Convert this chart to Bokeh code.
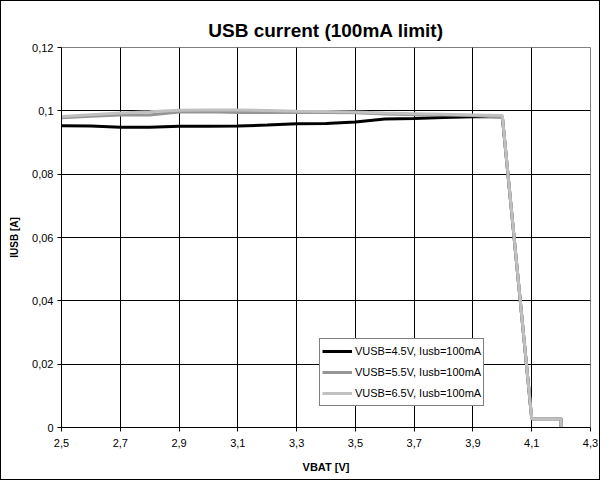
from bokeh.plotting import figure
from bokeh.models import Range1d, FixedTicker, Legend, LegendItem
from bokeh.embed import file_html
from bokeh.resources import INLINE

x_vals = [2.5, 2.6, 2.7, 2.8, 2.9, 3.0, 3.1, 3.2, 3.3, 3.4, 3.5, 3.6, 3.7, 3.8, 3.9, 4.0, 4.1, 4.2, 4.2]
vusb_45 = [0.0953, 0.0952, 0.0948, 0.0948, 0.0951, 0.0951, 0.0952, 0.0955, 0.0959, 0.0960, 0.0965,
           0.0974, 0.0976, 0.0979, 0.0981, 0.0982, 0.0028, 0.0028, 0.0]
vusb_55 = [0.0978, 0.0983, 0.0987, 0.0987, 0.0996, 0.0997, 0.0995, 0.0995, 0.0995, 0.0995, 0.0994,
           0.0990, 0.0988, 0.0987, 0.0985, 0.0980, 0.0028, 0.0028, 0.0]
vusb_65 = [0.0982, 0.0988, 0.0993, 0.0997, 0.1002, 0.1003, 0.1003, 0.1001, 0.0999, 0.0998, 0.0996,
           0.0993, 0.0991, 0.0989, 0.0987, 0.0985, 0.0028, 0.0028, 0.0]
series_labels = ["VUSB=4.5V, Iusb=100mA", "VUSB=5.5V, Iusb=100mA", "VUSB=6.5V, Iusb=100mA"]
series_colors = ["#000000", "#969696", "#c0c0c0"]

x_ticks = [2.5, 2.7, 2.9, 3.1, 3.3, 3.5, 3.7, 3.9, 4.1, 4.3]
x_tick_labels = ["2,5", "2,7", "2,9", "3,1", "3,3", "3,5", "3,7", "3,9", "4,1", "4,3"]
y_ticks = [0, 0.02, 0.04, 0.06, 0.08, 0.1, 0.12]
y_tick_labels = ["0", "0,02", "0,04", "0,06", "0,08", "0,1", "0,12"]

FONT = "Liberation Sans"

p = figure(width=600, height=480, output_backend="svg", toolbar_location=None,
           x_range=Range1d(2.5, 4.3), y_range=Range1d(0, 0.12),
           title="USB current (100mA limit)",
           min_border_left=60, min_border_right=11, min_border_top=46, min_border_bottom=54)
p.styles = {"border": "1px solid black"}

p.title.text_font = FONT
p.title.text_font_size = "19px"
p.title.text_font_style = "bold"
p.title.text_color = "black"
p.title.align = "center"
p.title.offset = -19
p.title.standoff = 14

p.outline_line_color = "#808080"
p.outline_line_width = 1

p.xaxis.ticker = FixedTicker(ticks=x_ticks)
p.xaxis.major_label_overrides = {t: l for t, l in zip(x_ticks, x_tick_labels)}
p.yaxis.ticker = FixedTicker(ticks=y_ticks)
p.yaxis.major_label_overrides = {t: l for t, l in zip(y_ticks, y_tick_labels)}

for ax in (p.xaxis, p.yaxis):
    ax.minor_tick_line_color = None
    ax.major_tick_in = 0
    ax.major_tick_out = 4
    ax.major_tick_line_color = "black"
    ax.axis_line_color = "black"
    ax.major_label_text_font = FONT
    ax.major_label_text_font_size = "11px"
    ax.major_label_text_color = "black"
    ax.axis_label_text_font = FONT
    ax.axis_label_text_font_style = "bold"
    ax.axis_label_text_color = "black"

p.xaxis.axis_label = "VBAT [V]"
p.xaxis.axis_label_text_font_size = "11px"
p.xaxis.major_label_standoff = 7
p.xaxis.axis_label_standoff = 11
p.yaxis.axis_label = "IUSB [A]"
p.yaxis.axis_label_text_font_size = "10px"
p.yaxis.major_label_standoff = 4
p.yaxis.axis_label_standoff = 9

p.xgrid.ticker = FixedTicker(ticks=x_ticks)
p.ygrid.ticker = FixedTicker(ticks=y_ticks)
p.grid.grid_line_color = "black"
p.grid.grid_line_width = 1
p.grid.grid_line_alpha = 1.0

renderers = []
for ys, c in zip([vusb_45, vusb_55, vusb_65], series_colors):
    r = p.line(x_vals, ys, line_color=c, line_width=3)
    renderers.append(r)

legend = Legend(items=[LegendItem(label=l, renderers=[r]) for l, r in zip(series_labels, renderers)],
                location=(258, 21))
legend.border_line_color = "black"
legend.border_line_width = 1
legend.background_fill_color = "white"
legend.background_fill_alpha = 1.0
legend.label_text_font = FONT
legend.label_text_font_size = "11px"
legend.label_text_color = "black"
legend.glyph_width = 30
legend.glyph_height = 20
legend.label_height = 20
legend.label_standoff = 3
legend.spacing = 1
legend.padding = 2
legend.margin = 0
p.add_layout(legend)

open("out.html", "w").write(file_html(p, INLINE))
